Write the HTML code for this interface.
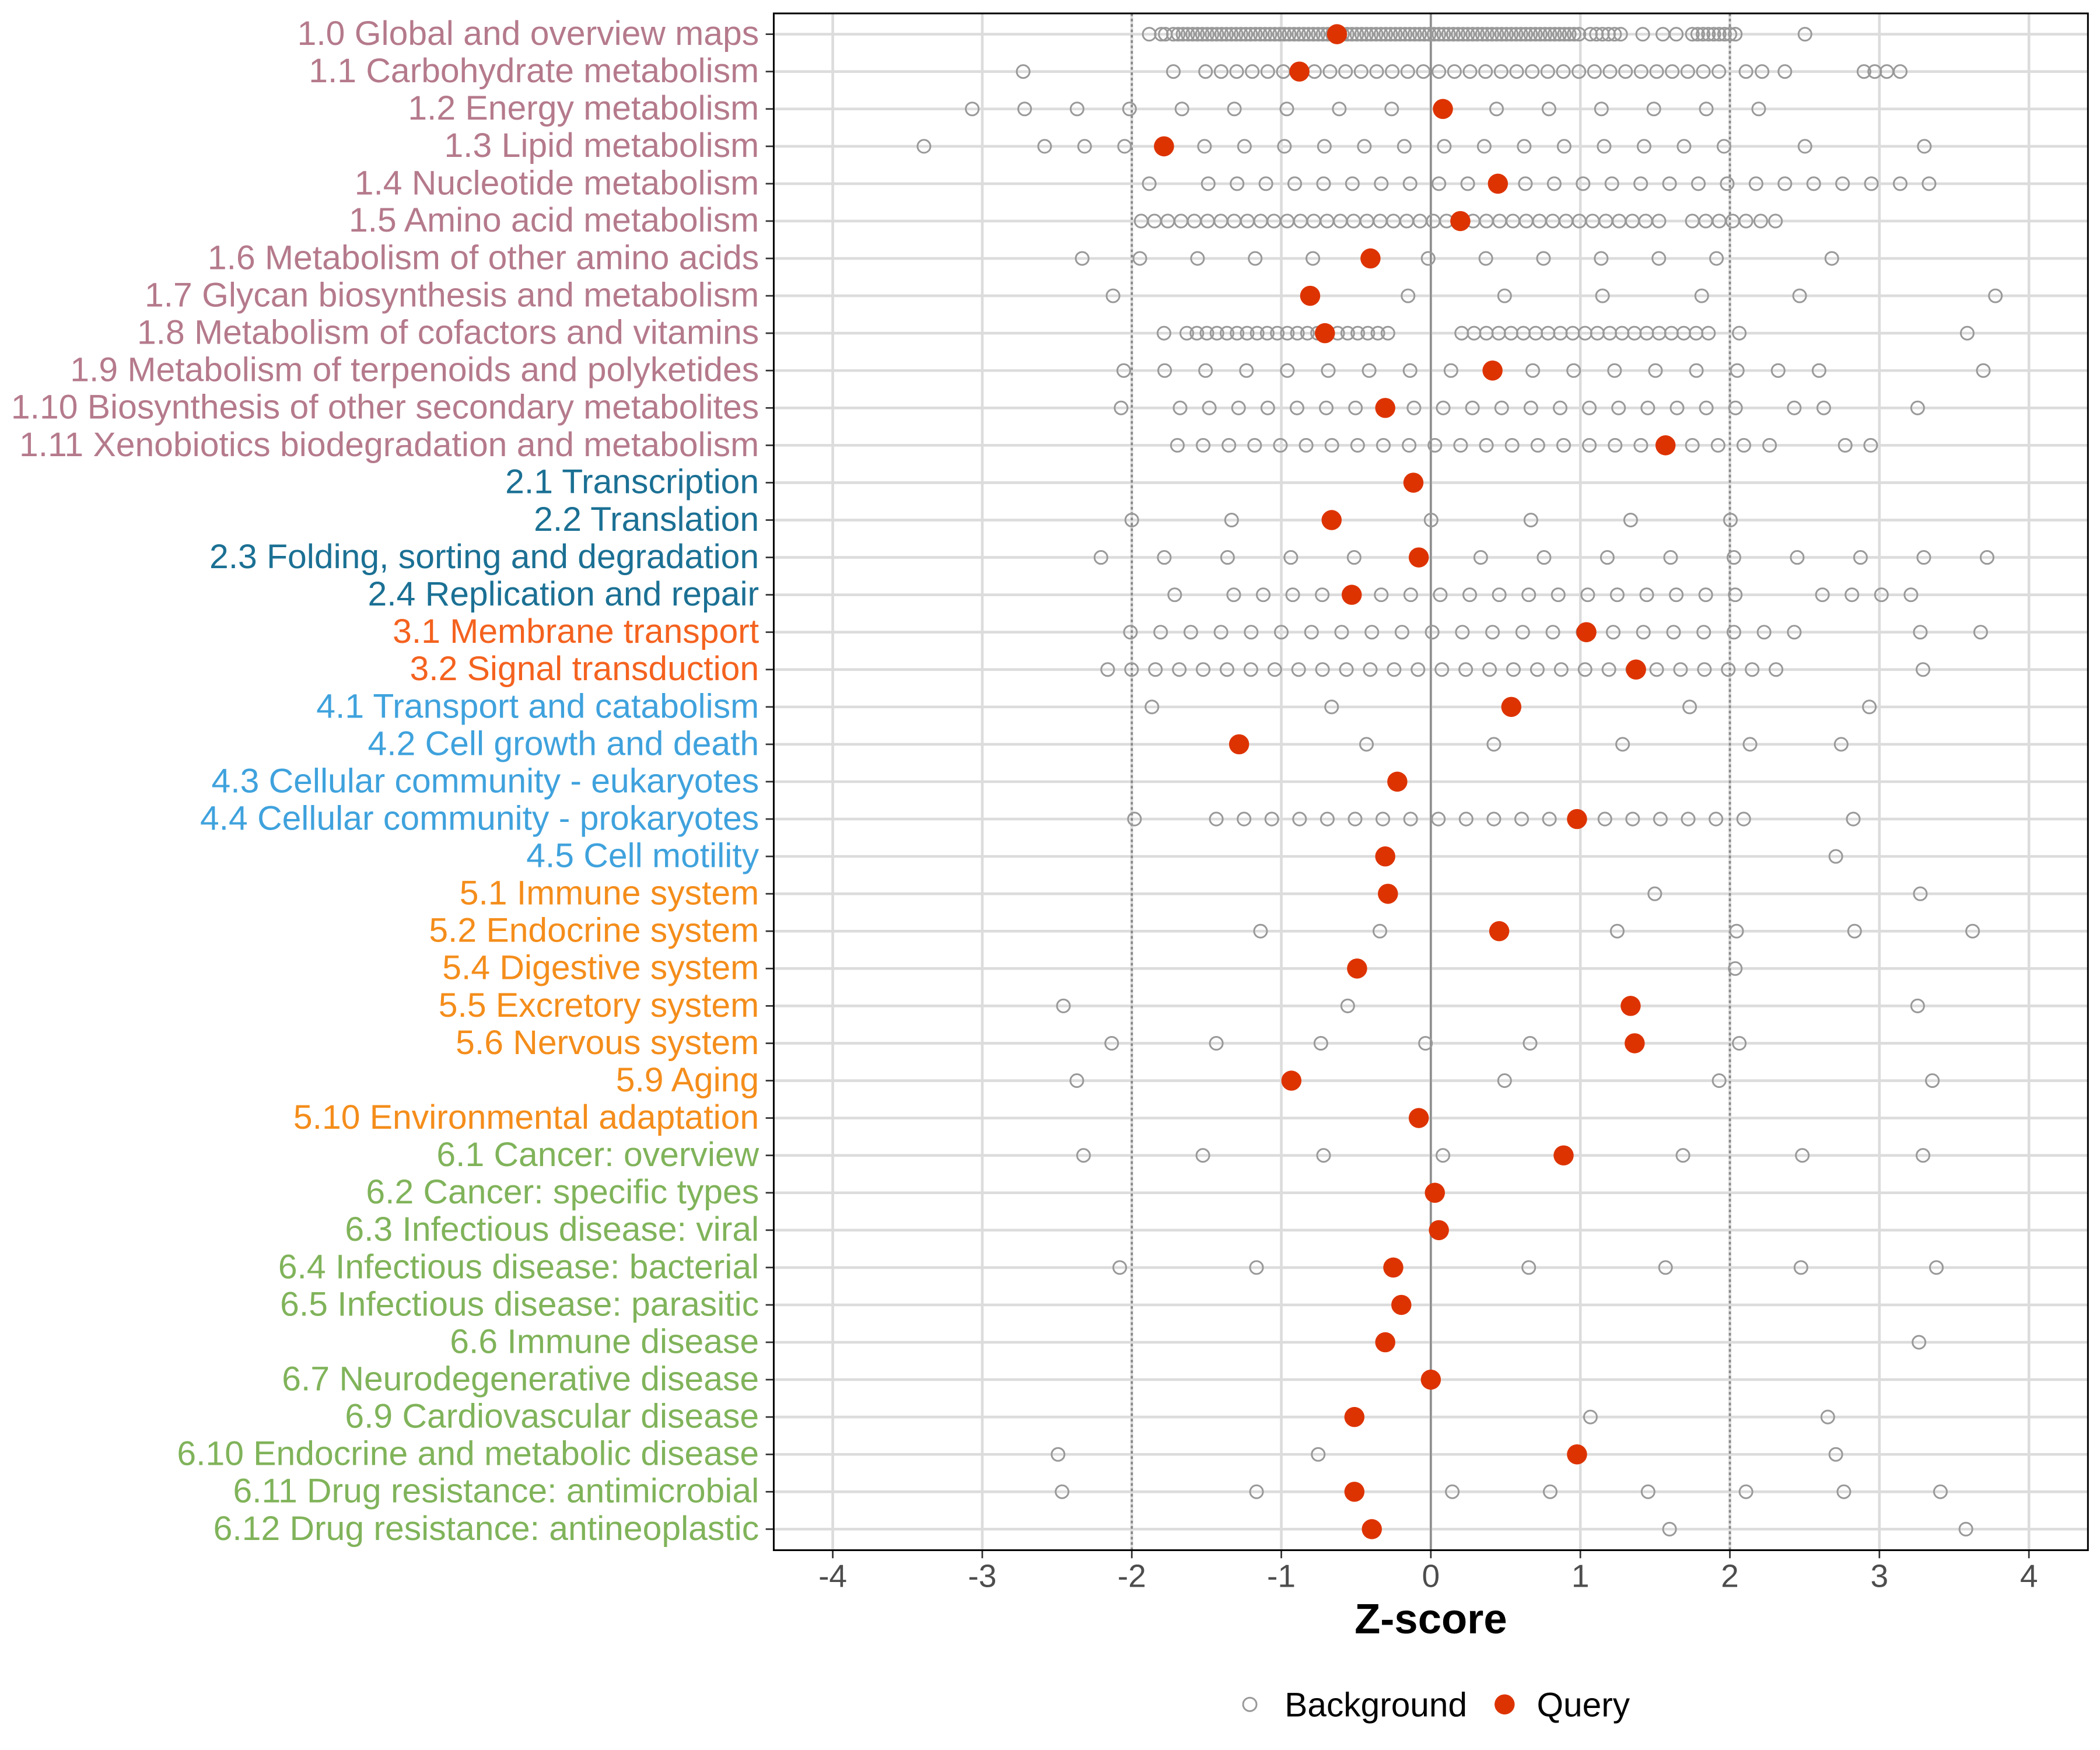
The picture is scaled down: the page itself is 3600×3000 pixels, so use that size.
<!DOCTYPE html>
<html><head><meta charset="utf-8"><style>
html,body{margin:0;padding:0;background:#fff;}
svg{display:block;}
text{font-family:"Liberation Sans",sans-serif;}
</style></head><body>
<svg id="s" width="3600" height="3000" viewBox="0 0 1566 1305" xmlns="http://www.w3.org/2000/svg">
<rect x="0" y="0" width="1566" height="1305" fill="#fff"/>
<g id="grid"></g>
<g id="pts"></g>
<rect x="577" y="10" width="980" height="1146" fill="none" stroke="#000" stroke-width="1.3"/>
<g id="labels" font-size="25.6" text-anchor="end">
<text x="566" y="33.5" fill="#b57a8c">1.0 Global and overview maps</text>
<text x="566" y="61.4" fill="#b57a8c">1.1 Carbohydrate metabolism</text>
<text x="566" y="89.2" fill="#b57a8c">1.2 Energy metabolism</text>
<text x="566" y="117.1" fill="#b57a8c">1.3 Lipid metabolism</text>
<text x="566" y="145" fill="#b57a8c">1.4 Nucleotide metabolism</text>
<text x="566" y="172.8" fill="#b57a8c">1.5 Amino acid metabolism</text>
<text x="566" y="200.7" fill="#b57a8c">1.6 Metabolism of other amino acids</text>
<text x="566" y="228.6" fill="#b57a8c">1.7 Glycan biosynthesis and metabolism</text>
<text x="566" y="256.5" fill="#b57a8c">1.8 Metabolism of cofactors and vitamins</text>
<text x="566" y="284.3" fill="#b57a8c">1.9 Metabolism of terpenoids and polyketides</text>
<text x="566" y="312.2" fill="#b57a8c">1.10 Biosynthesis of other secondary metabolites</text>
<text x="566" y="340.1" fill="#b57a8c">1.11 Xenobiotics biodegradation and metabolism</text>
<text x="566" y="367.9" fill="#1b7094">2.1 Transcription</text>
<text x="566" y="395.8" fill="#1b7094">2.2 Translation</text>
<text x="566" y="423.7" fill="#1b7094">2.3 Folding, sorting and degradation</text>
<text x="566" y="451.5" fill="#1b7094">2.4 Replication and repair</text>
<text x="566" y="479.4" fill="#f4621f">3.1 Membrane transport</text>
<text x="566" y="507.3" fill="#f4621f">3.2 Signal transduction</text>
<text x="566" y="535.2" fill="#3fa2dd">4.1 Transport and catabolism</text>
<text x="566" y="563" fill="#3fa2dd">4.2 Cell growth and death</text>
<text x="566" y="590.9" fill="#3fa2dd">4.3 Cellular community - eukaryotes</text>
<text x="566" y="618.8" fill="#3fa2dd">4.4 Cellular community - prokaryotes</text>
<text x="566" y="646.6" fill="#3fa2dd">4.5 Cell motility</text>
<text x="566" y="674.5" fill="#f48d1b">5.1 Immune system</text>
<text x="566" y="702.4" fill="#f48d1b">5.2 Endocrine system</text>
<text x="566" y="730.2" fill="#f48d1b">5.4 Digestive system</text>
<text x="566" y="758.1" fill="#f48d1b">5.5 Excretory system</text>
<text x="566" y="786" fill="#f48d1b">5.6 Nervous system</text>
<text x="566" y="813.9" fill="#f48d1b">5.9 Aging</text>
<text x="566" y="841.7" fill="#f48d1b">5.10 Environmental adaptation</text>
<text x="566" y="869.6" fill="#80b35a">6.1 Cancer: overview</text>
<text x="566" y="897.5" fill="#80b35a">6.2 Cancer: specific types</text>
<text x="566" y="925.3" fill="#80b35a">6.3 Infectious disease: viral</text>
<text x="566" y="953.2" fill="#80b35a">6.4 Infectious disease: bacterial</text>
<text x="566" y="981.1" fill="#80b35a">6.5 Infectious disease: parasitic</text>
<text x="566" y="1008.9" fill="#80b35a">6.6 Immune disease</text>
<text x="566" y="1036.8" fill="#80b35a">6.7 Neurodegenerative disease</text>
<text x="566" y="1064.7" fill="#80b35a">6.9 Cardiovascular disease</text>
<text x="566" y="1092.6" fill="#80b35a">6.10 Endocrine and metabolic disease</text>
<text x="566" y="1120.4" fill="#80b35a">6.11 Drug resistance: antimicrobial</text>
<text x="566" y="1148.3" fill="#80b35a">6.12 Drug resistance: antineoplastic</text>
</g>
<g font-size="24" fill="#4d4d4d" text-anchor="middle">
<text x="621" y="1183.5">-4</text><text x="732.5" y="1183.5">-3</text><text x="844" y="1183.5">-2</text><text x="955.5" y="1183.5">-1</text><text x="1067" y="1183.5">0</text><text x="1178.5" y="1183.5">1</text><text x="1290" y="1183.5">2</text><text x="1401.5" y="1183.5">3</text><text x="1513" y="1183.5">4</text>
</g>
<text x="1067" y="1218" font-size="31.5" font-weight="bold" text-anchor="middle" fill="#000">Z-score</text>
<circle cx="932" cy="1271" r="5" fill="none" stroke="#999" stroke-width="1.3"/>
<text x="958" y="1280" font-size="25.5" fill="#000">Background</text>
<circle cx="1122" cy="1271" r="7.5" fill="#dd3300"/>
<text x="1146" y="1280" font-size="25.5" fill="#000">Query</text>
</svg>
<script>
var NS="http://www.w3.org/2000/svg";
function el(p,t,a){var e=document.createElementNS(NS,t);for(var k in a)e.setAttribute(k,a[k]);p.appendChild(e);return e;}
var g=document.getElementById("grid"),P=document.getElementById("pts");
function Y(i){return 25.5+27.87*i;}
for(var i=0;i<41;i++){el(g,"line",{x1:577,x2:1557,y1:Y(i),y2:Y(i),stroke:"#dcdcdc","stroke-width":2});el(g,"line",{x1:571,x2:577,y1:Y(i),y2:Y(i),stroke:"#333","stroke-width":1.2});}
for(var v=-4;v<=4;v++){var x=1067+111.5*v;el(g,"line",{x1:x,x2:x,y1:10,y2:1156,stroke:"#dcdcdc","stroke-width":2});el(g,"line",{x1:x,x2:x,y1:1156,y2:1162,stroke:"#333","stroke-width":1.2});}
el(g,"line",{x1:844,x2:844,y1:10,y2:1156,stroke:"#888","stroke-width":1.6,"stroke-dasharray":"2,2"});
el(g,"line",{x1:1290,x2:1290,y1:10,y2:1156,stroke:"#888","stroke-width":1.6,"stroke-dasharray":"2,2"});
el(g,"line",{x1:1067,x2:1067,y1:10,y2:1156,stroke:"#888","stroke-width":1.4});
function seq(a,b,s){var r=[];for(var x=a;x<=b+0.01;x+=s)r.push(x);return r;}
var bg=[
[857,866,869].concat(seq(875,1180,3.6),seq(1186,1210,4.5),[1225,1240,1250],seq(1262,1295,4),[1346]),
[763,875].concat(seq(899,1291,11.6),[1302,1314,1331,1390,1398,1407,1417]),
seq(725,1349,39.1),
[689].concat(seq(779,1286,29.8),[1346,1435]),
[857].concat(seq(901,1441,21.5)),
seq(851,1240,9.9).concat([1262,1272,1282,1292,1302,1313,1324]),
seq(807,1280,43).concat([1366]),
[830,1050,1122,1195,1269,1342,1488],
[868].concat(seq(885,1040,7.5),seq(1090,1282,9.2),[1297,1467]),
seq(838,1386,30.5).concat([1479]),
[836].concat(seq(880,1295,21.8),[1338,1360,1430]),
seq(878,1338,19.2).concat([1376,1395]),
[],
seq(844,1364,74.4),
seq(821,1482,47.2),
[876].concat(seq(920,1315,22),[1359,1381,1403,1425]),
seq(843,1338,22.5).concat([1432,1477]),
seq(826,1326,17.8).concat([1434]),
[859,993,1127,1260,1394],
[1019,1114,1210,1305,1373],
[],
[846].concat(seq(907,1320,20.7),[1382]),
[1369],
[1234,1432],
[940,1029,1206,1295,1383,1471],
[1294],
[793,1005,1430],
[829,907,985,1063,1141,1297],
[803,1122,1282,1441],
[],
[808,897,987,1076,1255,1344,1434],
[],[],
[835,937,1140,1242,1343,1444],
[],
[1431],
[],
[1186,1363],
[789,983,1369],
[792,937,1083,1156,1229,1302,1375,1447],
[1245,1466]];
var q=[997,969,1076,868,1117,1089,1022,977,988,1113,1033,1242,1054,993,1058,1008,1183,1220,1127,924,1042,1176,1033,1035,1118,1012,1216,1219,963,1058,1166,1070,1073,1039,1045,1033,1067,1010,1176,1010,1023];
for(var i=0;i<41;i++){bg[i].forEach(function(x){el(P,"circle",{cx:x,cy:Y(i),r:4.8,fill:"none",stroke:"#999","stroke-width":1.3});});}
for(var i=0;i<41;i++){el(P,"circle",{cx:q[i],cy:Y(i),r:7.5,fill:"#dd3300"});}
</script>
</body></html>
